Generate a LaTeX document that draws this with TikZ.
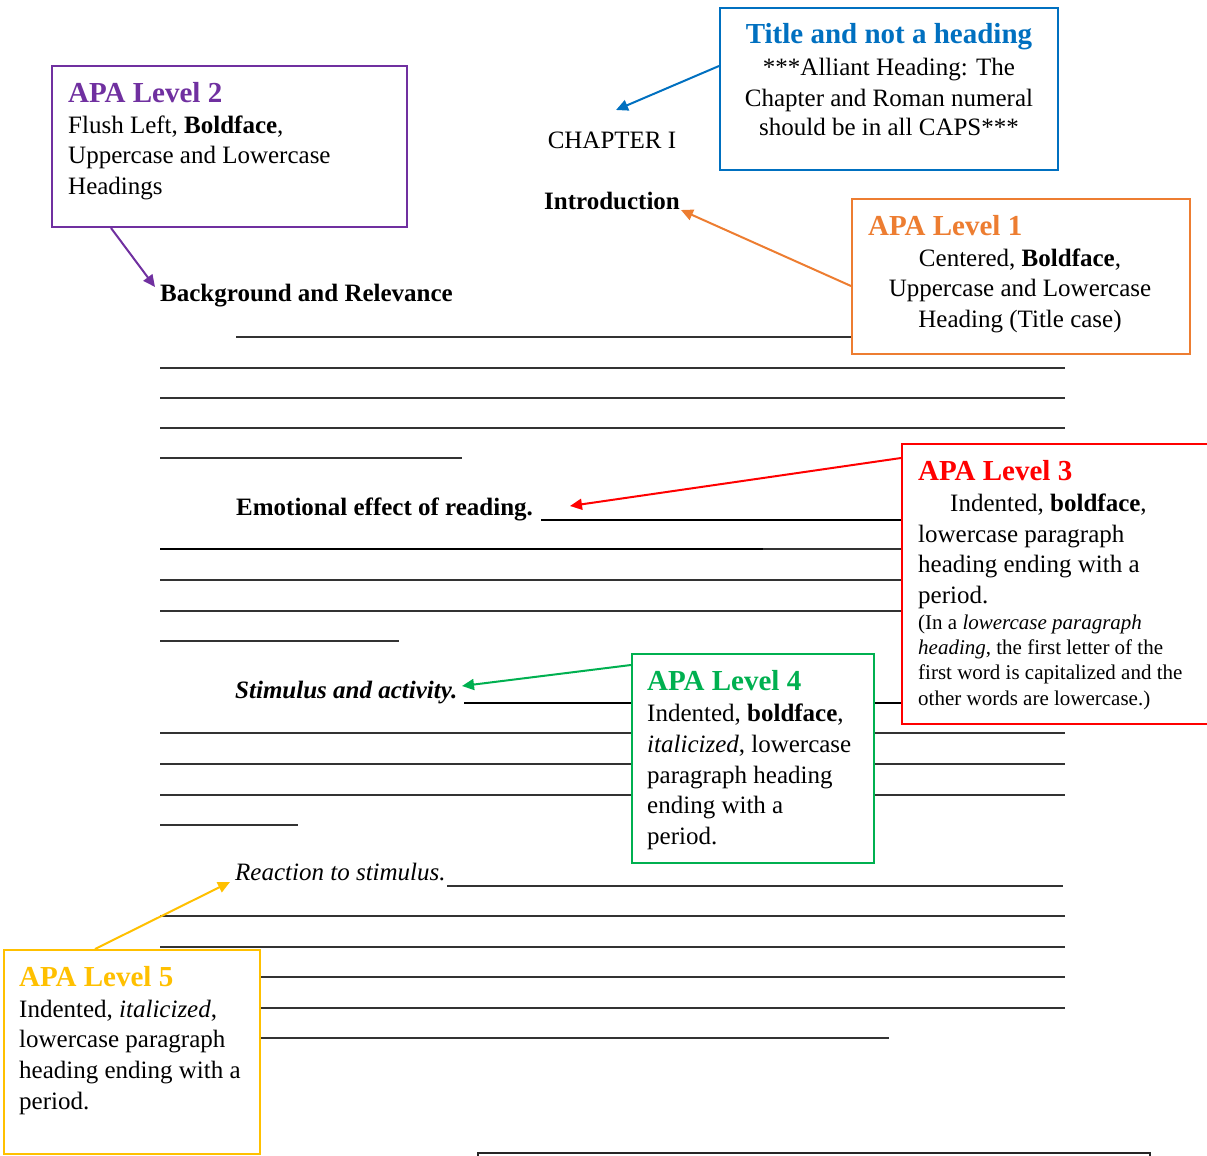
\documentclass[tikz,border=0pt]{standalone}
\usepackage{fontspec}
\setmainfont{Liberation Serif}
\usetikzlibrary{arrows.meta,calc}
\definecolor{cblue}{RGB}{0,112,192}
\definecolor{corange}{RGB}{237,125,49}
\definecolor{cpurple}{RGB}{112,48,160}
\definecolor{cred}{RGB}{255,0,0}
\definecolor{cgreen}{RGB}{0,176,80}
\definecolor{cgold}{RGB}{255,192,0}
\begin{document}
\begin{tikzpicture}[x=1pt,y=-1pt,
  box/.style={draw=#1, line width=2pt, fill=white, inner sep=0pt, anchor=north west},
  txt/.style={anchor=base west, inner sep=0pt, font=\fontsize{25}{30}\selectfont},
  txtc/.style={anchor=base, inner sep=0pt, font=\fontsize{25}{30}\selectfont},
  hd/.style={anchor=base west, inner sep=0pt, font=\fontsize{29}{34}\selectfont\bfseries, text=#1},
  sm/.style={anchor=base west, inner sep=0pt, font=\fontsize{21}{25}\selectfont},
  rl/.style={line width=1.3pt, draw=black!80},
  arr/.style={draw=#1, line width=2pt, -{Triangle[length=12pt,width=11pt]}}]
\useasboundingbox (0,0) rectangle (1207,1156);
\clip (0,0) rectangle (1207,1156);
% ruled lines
\draw[rl] (236,337) -- (1065,337);
\draw[rl] (160,368) -- (1065,368);
\draw[rl] (160,398) -- (1065,398);
\draw[rl] (160,428) -- (1065,428);
\draw[rl] (160,458) -- (462,458);
\draw[rl, draw=black, line width=1.8pt] (541,520) -- (1065,520);
\draw[rl, draw=black, line width=2pt] (160,549) -- (763,549);
\draw[rl] (763,549) -- (1065,549);
\draw[rl] (160,580) -- (1065,580);
\draw[rl] (160,611) -- (1065,611);
\draw[rl] (160,641) -- (399,641);
\draw[rl, draw=black, line width=1.8pt] (464,703) -- (1065,703);
\draw[rl] (160,733) -- (1065,733);
\draw[rl] (160,764) -- (1065,764);
\draw[rl] (160,795) -- (1065,795);
\draw[rl] (160,825) -- (298,825);
\draw[rl] (447,886) -- (1063,886);
\draw[rl] (160,916) -- (1065,916);
\draw[rl] (160,947) -- (1065,947);
\draw[rl] (160,977) -- (1065,977);
\draw[rl] (160,1008) -- (1065,1008);
\draw[rl] (160,1038) -- (889,1038);
\draw[line width=1.8pt, draw=black!85] (478,1170) -- (478,1153) -- (1150,1153) -- (1150,1170);
% boxes
\node[box=cblue, minimum width=338pt, minimum height=162pt] (tbox) at (719,7) {};
\node[box=cpurple, minimum width=355pt, minimum height=161pt] (pbox) at (51,65) {};
\node[box=corange, minimum width=338pt, minimum height=155pt] (obox) at (851,198) {};
\node[box=cred, minimum width=320pt, minimum height=280pt] (rbox) at (901,443) {};
\node[box=cgreen, minimum width=242pt, minimum height=209pt] (gbox) at (631,653) {};
\node[box=cgold, minimum width=256pt, minimum height=204pt] (ybox) at (3,949) {};
% title box text
\node[anchor=base, inner sep=0pt, font=\fontsize{29}{34}\selectfont\bfseries, text=cblue] (t0) at (889,44) {Title and not a heading};
\node[txtc] (t1) at (889,75) {***Alliant Heading: The};
\node[txtc] (t2) at (889,106) {Chapter and Roman numeral};
\node[txtc] (t3) at (889,135) {should be in all CAPS***};
% purple box text
\node[hd=cpurple] (p0) at (68,102) {APA Level 2};
\node[txt] (p1) at (68,133) {Flush Left, \textbf{Boldface},};
\node[txt] (p2) at (68,163) {Uppercase and Lowercase};
\node[txt] (p3) at (68,194) {Headings};
% orange box text
\node[hd=corange] (o0) at (868,235) {APA Level 1};
\node[txtc] (o1) at (1020,266) {Centered, \textbf{Boldface},};
\node[txtc] (o2) at (1020,296) {Uppercase and Lowercase};
\node[txtc] (o3) at (1020,327) {Heading (Title case)};
% red box text
\node[hd=cred] (r0) at (918,480) {APA Level 3};
\node[txt] (r1) at (950,511) {Indented, \textbf{boldface},};
\node[txt] (r2) at (918,542) {lowercase paragraph};
\node[txt] (r3) at (918,572) {heading ending with a};
\node[txt] (r4) at (918,603) {period.};
\node[sm] (r5) at (918,629) {(In a \textit{lowercase paragraph}};
\node[sm] (r6) at (918,654) {\textit{heading}, the first letter of the};
\node[sm] (r7) at (918,679) {first word is capitalized and the};
\node[sm] (r8) at (918,705) {other words are lowercase.)};
% green box text
\node[hd=cgreen] (g0) at (647,690) {APA Level 4};
\node[txt] (g1) at (647,721) {Indented, \textbf{boldface},};
\node[txt] (g2) at (647,752) {\textit{italicized}, lowercase};
\node[txt] (g3) at (647,783) {paragraph heading};
\node[txt] (g4) at (647,813) {ending with a};
\node[txt] (g5) at (647,844) {period.};
% gold box text
\node[hd=cgold] (y0) at (19,986) {APA Level 5};
\node[txt] (y1) at (19,1017) {Indented, \textit{italicized},};
\node[txt] (y2) at (19,1047) {lowercase paragraph};
\node[txt] (y3) at (19,1078) {heading ending with a};
\node[txt] (y4) at (19,1109) {period.};
% document headings
\node[txtc] (chap) at (612,148) {CHAPTER I};
\node[txt, font=\fontsize{25}{30}\selectfont\bfseries] (intro) at (544,209) {Introduction};
\node[txt, font=\fontsize{25}{30}\selectfont\bfseries] (bg) at (160,301) {Background and Relevance};
\node[txt, font=\fontsize{25}{30}\selectfont\bfseries] (emo) at (236,515) {Emotional effect of reading.};
\node[txt, font=\fontsize{25}{30}\selectfont\bfseries\itshape] (stim) at (235,698) {Stimulus and activity.};
\node[txt, font=\fontsize{25}{30}\selectfont\itshape] (react) at (235,880) {Reaction to stimulus.};
% arrow targets
\coordinate (ct) at (616,110);
\coordinate (it) at (681,210);
\coordinate (bt) at (155,287);
\coordinate (et) at (570,506);
\coordinate (st) at (462,686);
\coordinate (rt) at (230,882);
% arrows
\draw[arr=cblue] ($(tbox.north west)+(0,59)$) -- (ct);
\draw[arr=corange] ($(obox.north west)+(0,88)$) -- (it);
\draw[arr=cpurple] ($(pbox.south west)+(60,0)$) -- (bt);
\draw[arr=cred] ($(rbox.north west)+(0,15)$) -- (et);
\draw[arr=cgreen] ($(gbox.north west)+(0,12)$) -- (st);
\draw[arr=cgold] ($(ybox.north west)+(92,0)$) -- (rt);
\end{tikzpicture}
\end{document}
